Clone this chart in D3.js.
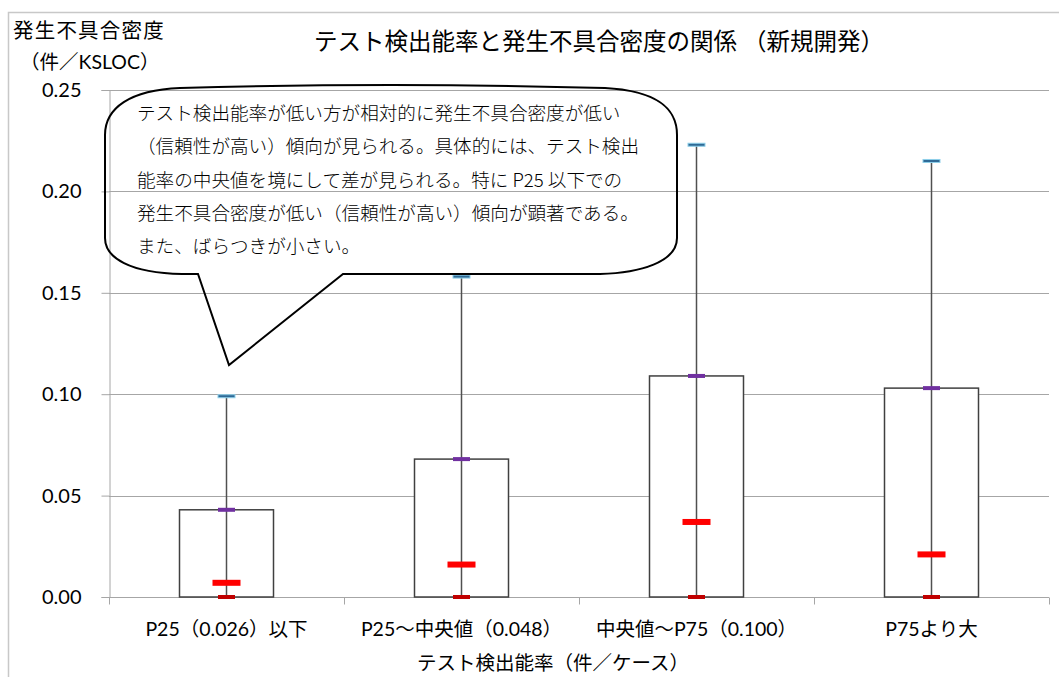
<!DOCTYPE html>
<html>
<head>
<meta charset="utf-8">
<script src="https://cdn.jsdelivr.net/npm/d3@7"></script>
<style>
  html, body { margin: 0; padding: 0; background: #fff; }
  svg { display: block; }
  text { font-family: Lato, "Noto Sans CJK JP", sans-serif; fill: #000; }
</style>
</head>
<body>
<svg id="chart" width="1059" height="677"></svg>
<script>
// Categories (test detection rate bands) and per-band statistics of defect density
const categories = ["P25（0.026）以下", "P25～中央値（0.048）", "中央値～P75（0.100）", "P75より大"];
const minVals    = [0.000, 0.000, 0.000, 0.000];
const medianVals = [0.007, 0.016, 0.037, 0.021];
const p75Vals    = [0.043, 0.068, 0.109, 0.103];
const maxVals    = [0.099, 0.158, 0.223, 0.215];
const yTicks     = [0, 0.05, 0.10, 0.15, 0.20, 0.25];

const titleText  = "テスト検出能率と発生不具合密度の関係 （新規開発）";
const yTitle1    = "発生不具合密度";
const yTitle2    = "（件／KSLOC）";
const xTitle     = "テスト検出能率（件／ケース）";
const noteLines  = [
  "テスト検出能率が低い方が相対的に発生不具合密度が低い",
  "（信頼性が高い）傾向が見られる。具体的には、テスト検出",
  "能率の中央値を境にして差が見られる。特に P25 以下での",
  "発生不具合密度が低い（信頼性が高い）傾向が顕著である。",
  "また、ばらつきが小さい。"
];

const svg = d3.select("#chart");
const plot = { left: 109, right: 1049, top: 90, bottom: 597 };

const x = d3.scaleBand().domain(categories).range([plot.left, plot.right]).padding(0);
const y = d3.scaleLinear().domain([0, 0.25]).range([plot.bottom, plot.top]);

// Outer frame
svg.append("path")
  .attr("d", "M8.5,677 L8.5,12.5 L1059,12.5")
  .attr("fill", "none").attr("stroke", "#c8c8c8").attr("stroke-width", 1.5);

// Horizontal gridlines
svg.append("g").selectAll("line").data(yTicks.filter(d => d > 0)).join("line")
  .attr("x1", plot.left).attr("x2", plot.right)
  .attr("y1", d => Math.round(y(d)) + 0.5).attr("y2", d => Math.round(y(d)) + 0.5)
  .attr("stroke", "#a6a6a6").attr("stroke-width", 1);

// Y axis
const yAxis = svg.append("g")
  .attr("transform", `translate(${plot.left + 0.5},0)`)
  .call(d3.axisLeft(y).tickValues(yTicks).tickFormat(d3.format(".2f")).tickSize(8).tickPadding(20));
yAxis.select(".domain").attr("stroke", "#a6a6a6");
yAxis.selectAll(".tick line").attr("stroke", "#a6a6a6");
yAxis.selectAll(".tick text").attr("font-size", 20).attr("font-family", "Lato, 'Noto Sans CJK JP', sans-serif").attr("fill", "#000");

// X axis with ticks at band edges
const xAxisG = svg.append("g").attr("transform", `translate(0,${plot.bottom + 0.5})`);
xAxisG.append("line").attr("x1", plot.left).attr("x2", plot.right)
  .attr("stroke", "#a6a6a6");
const edges = categories.map(c => x(c)).concat([x(categories[categories.length - 1]) + x.bandwidth()]);
xAxisG.selectAll("line.tk").data(edges).join("line").attr("class", "tk")
  .attr("x1", d => Math.round(d) + 0.5).attr("x2", d => Math.round(d) + 0.5)
  .attr("y1", 0).attr("y2", 7).attr("stroke", "#a6a6a6");
xAxisG.selectAll("text").data(categories).join("text")
  .attr("x", d => x(d) + x.bandwidth() / 2).attr("y", 38)
  .attr("text-anchor", "middle").attr("font-size", 19.5).text(d => d);

// Boxes (min to P75)
const boxW = x.bandwidth() * 0.4;
const cx = i => x(categories[i]) + x.bandwidth() / 2;
const idx = d3.range(categories.length);

svg.append("g").selectAll("rect").data(idx).join("rect")
  .attr("x", i => cx(i) - boxW / 2).attr("width", boxW)
  .attr("y", i => y(p75Vals[i])).attr("height", i => y(minVals[i]) - y(p75Vals[i]))
  .attr("fill", "#fff").attr("stroke", "#404040").attr("stroke-width", 1.5);

// Whiskers (min to max)
svg.append("g").selectAll("line").data(idx).join("line")
  .attr("x1", cx).attr("x2", cx)
  .attr("y1", i => y(minVals[i])).attr("y2", i => y(maxVals[i]))
  .attr("stroke", "#505050").attr("stroke-width", 1.5);

// Markers
function markers(vals, w, h, fill, stroke) {
  svg.append("g").selectAll("rect").data(idx).join("rect")
    .attr("x", i => cx(i) - w / 2).attr("width", w)
    .attr("y", i => y(vals[i]) - h / 2).attr("height", h)
    .attr("fill", fill).attr("stroke", stroke || "none").attr("stroke-width", stroke ? 1 : 0);
}
markers(maxVals, 17, 3, "#2f6a96", "#8fd0ea");
markers(p75Vals, 17, 4, "#7030a0");
markers(minVals, 17, 4, "#c00000");
markers(medianVals, 28, 6, "#ff0000");

// Titles
svg.append("text").attr("x", 599).attr("y", 50).attr("text-anchor", "middle")
  .attr("font-size", 23.5).attr("font-weight", 400).text(titleText);
svg.append("text").attr("x", 13).attr("y", 38).attr("font-size", 20.5)
  .attr("letter-spacing", 1.2).text(yTitle1);
svg.append("text").attr("x", 20).attr("y", 69).attr("font-size", 19.5).text(yTitle2);
svg.append("text").attr("x", 553).attr("y", 670).attr("text-anchor", "middle")
  .attr("font-size", 19.5).text(xTitle);

// Callout balloon
const balloon = d3.path();
balloon.moveTo(180, 88);
balloon.quadraticCurveTo(391, 82, 605, 88);
balloon.bezierCurveTo(660, 91, 677, 110, 677, 135);
balloon.lineTo(677, 238);
balloon.bezierCurveTo(677, 262, 640, 273, 600, 274);
balloon.lineTo(343, 274);
balloon.lineTo(229, 365);
balloon.lineTo(198, 274);
balloon.lineTo(182, 274);
balloon.bezierCurveTo(130, 273, 105, 258, 105, 238);
balloon.lineTo(105, 135);
balloon.bezierCurveTo(105, 108, 130, 90, 180, 88);
balloon.closePath();
svg.append("path").attr("d", balloon.toString())
  .attr("fill", "none").attr("stroke", "#000").attr("stroke-width", 2).attr("stroke-linejoin", "miter");

svg.append("g").selectAll("text").data(noteLines).join("text")
  .attr("x", 137).attr("y", (d, i) => 120 + i * 33.3)
  .attr("font-size", 18.6).attr("font-weight", 300).attr("fill", "#222")
  .style("font-family", "'Noto Sans CJK JP', sans-serif")
  .text(d => d);
</script>
</body>
</html>
